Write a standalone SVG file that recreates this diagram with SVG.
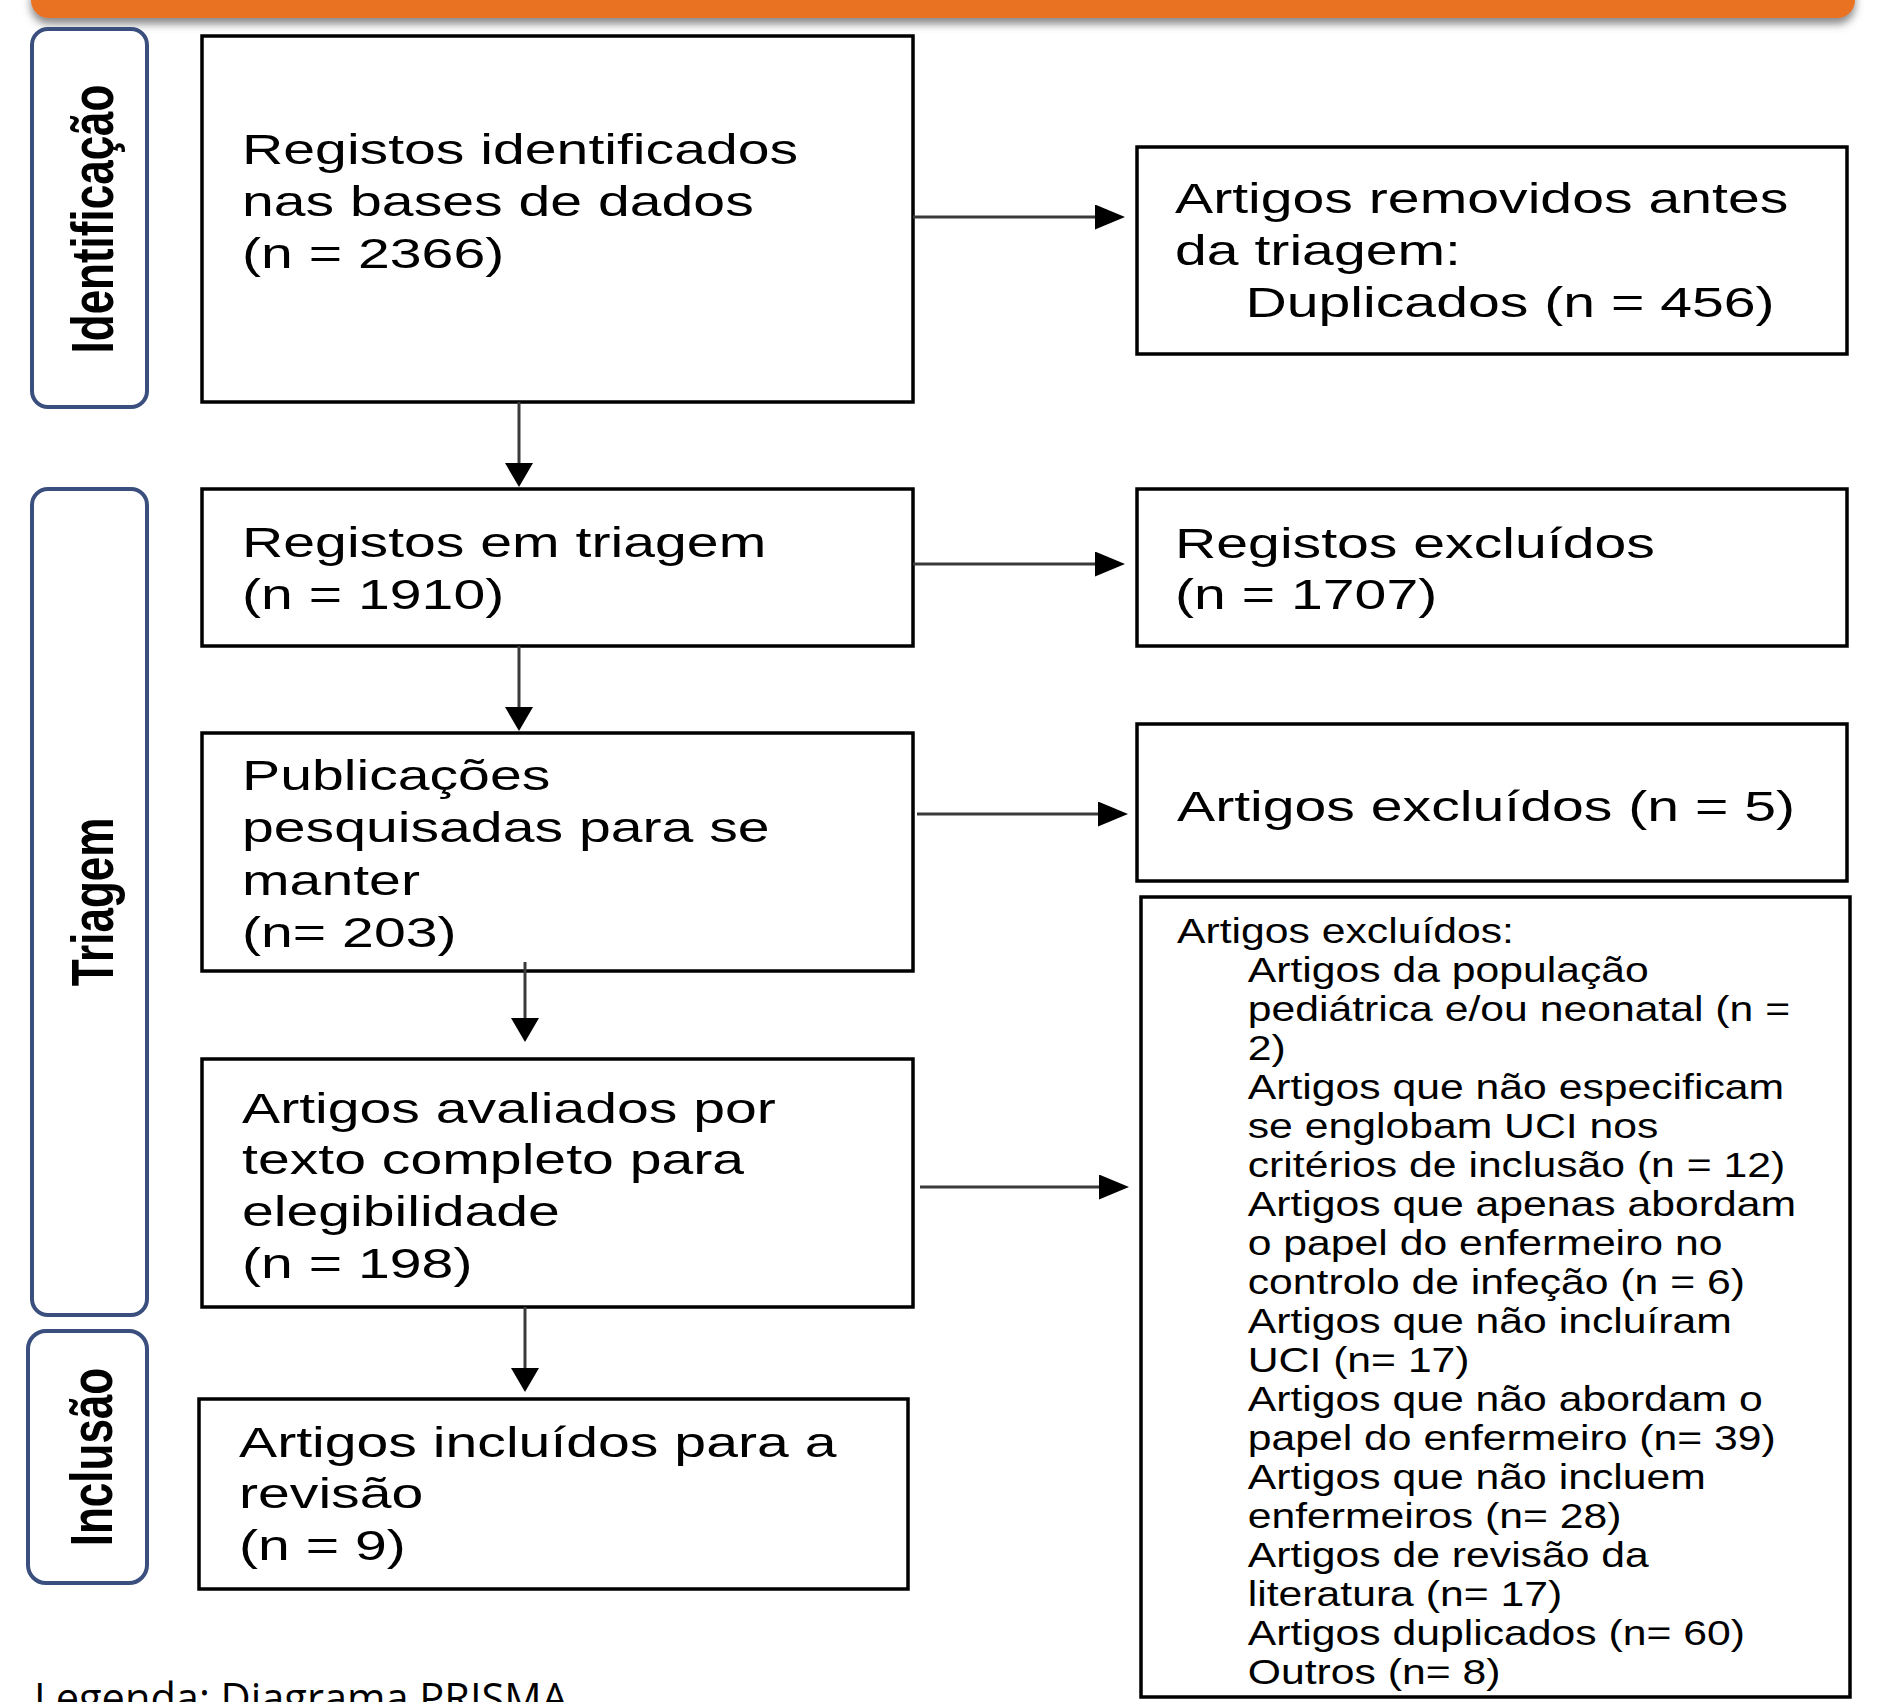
<svg xmlns="http://www.w3.org/2000/svg" width="1883" height="1702" viewBox="0 0 1883 1702">
<defs>
<style>
.box{fill:#fff;stroke:#000;stroke-width:3.5}
.lab{fill:#fff;stroke:#3a4f7e;stroke-width:4}
.t{font-family:"Liberation Sans",Arial,sans-serif;font-size:43px;fill:#000}
.ts{font-family:"Liberation Sans",Arial,sans-serif;font-size:35px;fill:#000}
.lt{font-family:"Liberation Sans",Arial,sans-serif;font-size:44px;font-weight:bold;fill:#000;text-anchor:middle}
.leg{font-family:"Open Sans","Liberation Sans",sans-serif;font-size:42px;fill:#000}
.ch{stroke:#3a3a3a;stroke-width:3;fill:none;marker-end:url(#ahh)}
.cv{stroke:#3a3a3a;stroke-width:3;fill:none;marker-end:url(#ahv)}
</style>
<marker id="ahh" markerUnits="userSpaceOnUse" markerWidth="30" markerHeight="25" refX="5" refY="12.5" orient="auto" viewBox="0 0 30 25">
<path d="M0,0 L30,12.5 L0,25 z" fill="#000"/>
</marker>
<marker id="ahv" markerUnits="userSpaceOnUse" markerWidth="24" markerHeight="28" refX="5" refY="14" orient="auto" viewBox="0 0 24 28">
<path d="M0,0 L24,14 L0,28 z" fill="#000"/>
</marker>
<filter id="sh" x="-5%" y="-50%" width="110%" height="250%">
<feGaussianBlur in="SourceAlpha" stdDeviation="4"/>
<feOffset dx="0" dy="6" result="b"/>
<feFlood flood-color="#555" flood-opacity="0.7"/>
<feComposite in2="b" operator="in"/>
<feMerge><feMergeNode/><feMergeNode in="SourceGraphic"/></feMerge>
</filter>
</defs>
<rect width="1883" height="1702" fill="#fff"/>

<g id="titlebar">
<rect x="31" y="-30" width="1824" height="48" rx="18" fill="#E97120" filter="url(#sh)"/>
</g>

<g id="label-identificacao">
<rect class="lab" x="32" y="29" width="115" height="378" rx="16" ry="16"/>
<text class="lt" transform="matrix(0 -1 1.33 0 113 219)">Identificação</text>
</g>
<g id="label-triagem">
<rect class="lab" x="32" y="489" width="115" height="826" rx="16" ry="16"/>
<text class="lt" transform="matrix(0 -1 1.33 0 113 902)">Triagem</text>
</g>
<g id="label-inclusao">
<rect class="lab" x="28" y="1331" width="119" height="252" rx="18" ry="18"/>
<text class="lt" transform="matrix(0 -1 1.33 0 112 1457)">Inclusão</text>
</g>

<g id="box-identificados">
<rect class="box" x="202" y="36" width="711" height="366"/>
<text class="t" transform="matrix(1.33 0 0 1 242 0)"><tspan x="0" y="164">Registos identificados</tspan><tspan x="0" y="216">nas bases de dados</tspan><tspan x="0" y="268">(n = 2366)</tspan></text>
</g>
<g id="box-triagem">
<rect class="box" x="202" y="489" width="711" height="157"/>
<text class="t" transform="matrix(1.33 0 0 1 242 0)"><tspan x="0" y="557">Registos em triagem</tspan><tspan x="0" y="609">(n = 1910)</tspan></text>
</g>
<g id="box-publicacoes">
<rect class="box" x="202" y="733" width="711" height="238"/>
<text class="t" transform="matrix(1.33 0 0 1 242 0)"><tspan x="0" y="790">Publicações</tspan><tspan x="0" y="842">pesquisadas para se</tspan><tspan x="0" y="895">manter</tspan><tspan x="0" y="947">(n= 203)</tspan></text>
</g>
<g id="box-avaliados">
<rect class="box" x="202" y="1059" width="711" height="248"/>
<text class="t" transform="matrix(1.33 0 0 1 242 0)"><tspan x="0" y="1123">Artigos avaliados por</tspan><tspan x="0" y="1174">texto completo para</tspan><tspan x="0" y="1226">elegibilidade</tspan><tspan x="0" y="1278">(n = 198)</tspan></text>
</g>
<g id="box-incluidos">
<rect class="box" x="199" y="1399" width="709" height="190"/>
<text class="t" transform="matrix(1.33 0 0 1 239 0)"><tspan x="0" y="1457">Artigos incluídos para a</tspan><tspan x="0" y="1508">revisão</tspan><tspan x="0" y="1560">(n = 9)</tspan></text>
</g>

<g id="box-removidos">
<rect class="box" x="1137" y="147" width="710" height="207"/>
<text class="t" transform="matrix(1.33 0 0 1 1175 0)"><tspan x="0" y="213">Artigos removidos antes</tspan><tspan x="0" y="265">da triagem:</tspan><tspan x="53" y="317">Duplicados (n = 456)</tspan></text>
</g>
<g id="box-registos-excluidos">
<rect class="box" x="1137" y="489" width="710" height="157"/>
<text class="t" transform="matrix(1.33 0 0 1 1175 0)"><tspan x="0" y="558">Registos excluídos</tspan><tspan x="0" y="609">(n = 1707)</tspan></text>
</g>
<g id="box-artigos-excluidos-5">
<rect class="box" x="1137" y="724" width="710" height="157"/>
<text class="t" transform="matrix(1.33 0 0 1 1177 0)"><tspan x="0" y="821">Artigos excluídos (n = 5)</tspan></text>
</g>
<g id="box-artigos-excluidos-lista">
<rect class="box" x="1141" y="897" width="709" height="800"/>
<text class="ts" transform="matrix(1.22 0 0 1 1177 0)"><tspan x="0" y="943">Artigos excluídos:</tspan><tspan x="58" y="982">Artigos da população</tspan><tspan x="58" y="1021">pediátrica e/ou neonatal (n =</tspan><tspan x="58" y="1060">2)</tspan><tspan x="58" y="1099">Artigos que não especificam</tspan><tspan x="58" y="1138">se englobam UCI nos</tspan><tspan x="58" y="1177">critérios de inclusão (n = 12)</tspan><tspan x="58" y="1216">Artigos que apenas abordam</tspan><tspan x="58" y="1255">o papel do enfermeiro no</tspan><tspan x="58" y="1294">controlo de infeção (n = 6)</tspan><tspan x="58" y="1333">Artigos que não incluíram</tspan><tspan x="58" y="1372">UCI (n= 17)</tspan><tspan x="58" y="1411">Artigos que não abordam o</tspan><tspan x="58" y="1450">papel do enfermeiro (n= 39)</tspan><tspan x="58" y="1489">Artigos que não incluem</tspan><tspan x="58" y="1528">enfermeiros (n= 28)</tspan><tspan x="58" y="1567">Artigos de revisão da</tspan><tspan x="58" y="1606">literatura (n= 17)</tspan><tspan x="58" y="1645">Artigos duplicados (n= 60)</tspan><tspan x="58" y="1684">Outros (n= 8)</tspan></text>
</g>

<g id="connectors">
<path class="ch" d="M913,217 H1100"/>
<path class="cv" d="M519,402 V468"/>
<path class="ch" d="M913,564 H1100"/>
<path class="cv" d="M519,646 V712"/>
<path class="ch" d="M917,814 H1103"/>
<path class="cv" d="M525,962 V1023"/>
<path class="ch" d="M920,1187 H1104"/>
<path class="cv" d="M525,1307 V1373"/>
</g>

<g id="legend">
<text class="leg" x="34" y="1713" textLength="534" lengthAdjust="spacingAndGlyphs">Legenda: Diagrama PRISMA</text>
</g>
</svg>
